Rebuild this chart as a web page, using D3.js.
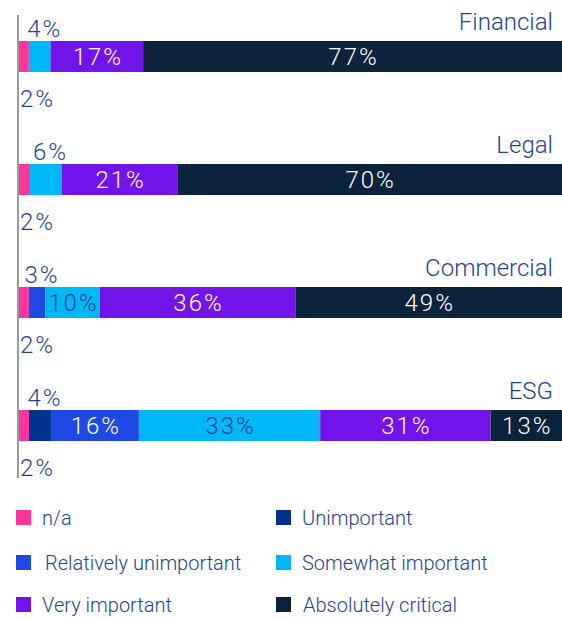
<!DOCTYPE html>
<html>
<head>
<meta charset="utf-8">
<script src="https://cdn.jsdelivr.net/npm/d3@7/dist/d3.min.js"></script>
<style>
  html, body { margin: 0; padding: 0; background: #fff; }
  svg { display: block; font-family: Roboto, "Noto Sans", sans-serif; }
</style>
</head>
<body>
<svg id="chart" width="562" height="618"></svg>
<script>
// Importance ratings per due-diligence area (percent of respondents)
const categories = ["Financial", "Legal", "Commercial", "ESG"];
const seriesNames = ["n/a", "Unimportant", "Relatively unimportant", "Somewhat important", "Very important", "Absolutely critical"];
const naValues          = [2, 2, 2, 2];
const unimportant       = [0, 0, 0, 4];
const relUnimportant    = [0, 0, 3, 16];
const somewhatImportant = [4, 6, 10, 33];
const veryImportant     = [17, 21, 36, 31];
const absolutelyCrit    = [77, 70, 49, 13];
const colors = ["#FD349C", "#00338D", "#1E49E2", "#00B8F5", "#7213EA", "#0C233C"];

const textBlue = "#1d42a0";

const rows = categories.map((c, i) => ({
  category: c,
  "n/a": naValues[i],
  "Unimportant": unimportant[i],
  "Relatively unimportant": relUnimportant[i],
  "Somewhat important": somewhatImportant[i],
  "Very important": veryImportant[i],
  "Absolutely critical": absolutelyCrit[i]
}));

const svg = d3.select("#chart");
const left = 18, right = 562;

// Each bar spans the full width (shares normalised per row)
const stack = d3.stack().keys(seriesNames).offset(d3.stackOffsetExpand);
const layers = stack(rows);

const x = d3.scaleLinear().domain([0, 1]).range([left, right]);
const y = d3.scalePoint().domain(categories).range([41, 410]);
const bh = 31;

const color = d3.scaleOrdinal().domain(seriesNames).range(colors);

// Bars
const g = svg.append("g");
layers.forEach(layer => {
  g.selectAll(null)
    .data(layer.map((d, i) => ({ s: d, row: rows[i], raw: rows[i][layer.key] })).filter(d => d.raw > 0))
    .join("rect")
    .attr("x", d => x(d.s[0]))
    .attr("y", d => y(d.row.category))
    .attr("width", d => x(d.s[1]) - x(d.s[0]))
    .attr("height", bh)
    .attr("fill", color(layer.key));
});

// Vertical baseline
svg.append("line")
  .attr("x1", left).attr("x2", left)
  .attr("y1", 15).attr("y2", 478)
  .attr("stroke", "#9a9a9a").attr("stroke-width", 2);

// Category titles, right-aligned above each bar
svg.append("g").selectAll("text")
  .data(categories)
  .join("text")
  .attr("x", 553)
  .attr("y", d => y(d) - 11)
  .attr("text-anchor", "end")
  .attr("fill", textBlue)
  .attr("font-size", 24)
  .attr("font-weight", 300)
  .text(d => d);

// Value labels
const labelG = svg.append("g")
  .attr("font-size", 24)
  .attr("font-weight", 300)
  .attr("letter-spacing", 2);
layers.forEach(layer => {
  layer.forEach((d, i) => {
    const v = rows[i][layer.key];
    if (v <= 0) return;
    const cat = rows[i].category;
    const x0 = x(d[0]), x1 = x(d[1]);
    const yTop = y(cat);
    const w = x1 - x0;
    let tx, ty, anchor = "middle", fill;
    if (layer.key === "n/a") {
      // tiny first slice: label below the bar
      tx = left + 2; ty = yTop + bh + 26; anchor = "start"; fill = textBlue;
    } else if (w < 40) {
      // narrow slice: label above the bar
      tx = (x0 + x1) / 2 + 5; ty = yTop - 13; fill = textBlue;
    } else {
      tx = (x0 + x1) / 2 + 1; ty = yTop + bh / 2;
      fill = layer.key === "Somewhat important" ? "#1a3f9c" : "#ffffff";
    }
    labelG.append("text")
      .attr("x", tx).attr("y", ty)
      .attr("dy", "0.36em")
      .attr("text-anchor", anchor)
      .attr("fill", fill)
      .text(v + "%");
  });
});

// Legend: two columns, row-major
const legend = svg.append("g").attr("font-size", 20).attr("font-weight", 300);
const colX = [16, 276];
const rowY = [510, 555, 597];
const textX = [[42, 302], [45, 302], [42, 303]];
seriesNames.forEach((name, i) => {
  const r = Math.floor(i / 2), c = i % 2;
  legend.append("rect")
    .attr("x", colX[c]).attr("y", rowY[r])
    .attr("width", 15).attr("height", 15)
    .attr("fill", color(name));
  legend.append("text")
    .attr("x", textX[r][c]).attr("y", rowY[r] + 15)
    .attr("fill", textBlue)
    .text(name);
});
</script>
</body>
</html>
